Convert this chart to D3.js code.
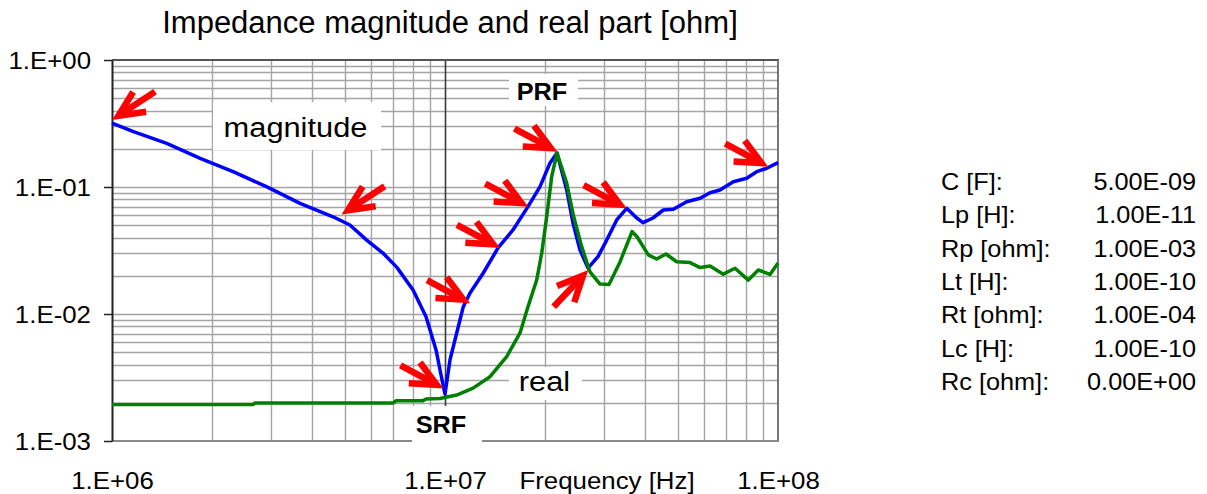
<!DOCTYPE html>
<html>
<head>
<meta charset="utf-8">
<script src="https://cdn.jsdelivr.net/npm/d3@7"></script>
<style>
  body { margin: 0; background: #fff; }
  svg { display: block; }
  text { font-family: "Liberation Sans", Arial, sans-serif; fill: #000; }
</style>
</head>
<body>
<svg id="chart" width="1207" height="494"></svg>
<script>
// Impedance magnitude |Z| [ohm] versus frequency [Hz]
const magFreq = [1.00e6, 1.16e6, 1.46e6, 1.84e6, 2.31e6, 2.91e6, 3.67e6, 4.61e6, 5.18e6, 5.82e6,
  6.51e6, 7.16e6, 8.02e6, 8.77e6, 9.40e6, 9.73e6, 1.00e7, 1.035e7, 1.059e7, 1.109e7,
  1.135e7, 1.189e7, 1.303e7, 1.443e7, 1.600e7, 1.775e7, 1.929e7, 2.067e7, 2.169e7, 2.320e7,
  2.423e7, 2.543e7, 2.688e7, 2.880e7, 3.059e7, 3.278e7, 3.513e7, 3.765e7, 3.932e7, 4.213e7,
  4.524e7, 4.848e7, 5.318e7, 5.833e7, 6.249e7, 6.696e7, 7.341e7, 8.054e7, 8.630e7, 9.250e7, 1.00e8];
const magValue = [0.319, 0.2725, 0.2208, 0.1683, 0.1320, 0.1006, 0.0744, 0.0583, 0.0502, 0.0382,
  0.0302, 0.0234, 0.01545, 0.00952, 0.00521, 0.00331, 0.00234, 0.00434, 0.00553, 0.00897,
  0.01142, 0.01463, 0.02103, 0.0331, 0.0459, 0.0700, 0.1006, 0.1545, 0.1852, 0.0947,
  0.0521, 0.0319, 0.0230, 0.0283, 0.0382, 0.0550, 0.0680, 0.0570, 0.0524, 0.0570,
  0.0659, 0.0667, 0.0766, 0.0815, 0.0902, 0.0947, 0.1101, 0.1171, 0.1320, 0.1404, 0.1554];

// Real part Re(Z) [ohm] versus frequency [Hz]
const realFreq = [1.00e6, 2.651e6, 2.688e6, 6.980e6, 7.125e6, 8.587e6, 8.769e6, 9.661e6, 1.014e7, 1.084e7,
  1.214e7, 1.365e7, 1.532e7, 1.680e7, 1.775e7, 1.885e7, 1.952e7, 2.020e7, 2.091e7, 2.169e7,
  2.320e7, 2.428e7, 2.573e7, 2.725e7, 2.921e7, 3.108e7, 3.354e7, 3.644e7, 3.773e7, 4.078e7,
  4.322e7, 4.610e7, 4.963e7, 5.441e7, 5.833e7, 6.249e7, 6.850e7, 7.428e7, 8.144e7, 8.727e7,
  9.463e7, 1.00e8];
const realValue = [0.00194, 0.00194, 0.00199, 0.00199, 0.00207, 0.00207, 0.00214, 0.00216, 0.00222, 0.00230,
  0.00261, 0.00321, 0.00461, 0.00709, 0.0114, 0.0185, 0.0302, 0.0583, 0.1205, 0.1852,
  0.1075, 0.0602, 0.0339, 0.0215, 0.0172, 0.0171, 0.0257, 0.0446, 0.0406, 0.0292,
  0.0271, 0.0297, 0.0258, 0.0254, 0.0232, 0.0239, 0.0206, 0.0229, 0.0185, 0.0222,
  0.0205, 0.0252];

// Axis ticks
const xTickValues = [1e6, 1e7, 1e8];
const xTickLabels = ["1.E+06", "1.E+07", "1.E+08"];
const yTickValues = [1e-3, 1e-2, 1e-1, 1];
const yTickLabels = ["1.E-03", "1.E-02", "1.E-01", "1.E+00"];

// Circuit parameters listed beside the plot
const paramNames = ["C [F]:", "Lp [H]:", "Rp [ohm]:", "Lt [H]:", "Rt [ohm]:", "Lc [H]:", "Rc [ohm]:"];
const paramValues = ["5.00E-09", "1.00E-11", "1.00E-03", "1.00E-10", "1.00E-04", "1.00E-10", "0.00E+00"];

// Red pointer arrows: tip location and the side the arrow comes from
const arrowFreq = [1.0e6, 4.89e6, 9.9e6, 1.19e7, 1.463e7, 1.779e7, 2.177e7, 2.694e7, 3.513e7, 9.35e7];
const arrowValue = [0.337, 0.0607, 0.00259, 0.01214, 0.0331, 0.0700, 0.1897, 0.0222, 0.0680, 0.1445];
const arrowFrom = ["ne", "ne", "nw", "nw", "nw", "nw", "nw", "sw", "nw", "nw"];

const svg = d3.select("#chart");
svg.append("rect").attr("width", 1207).attr("height", 494).attr("fill", "#fff");

const x = d3.scaleLog().domain([1e6, 1e8]).range([112, 778]);
const y = d3.scaleLog().domain([1e-3, 1]).range([441, 60]);
const [x0, x1] = x.range();
const [y0, y1] = y.range();
const STRETCH = 1.1;

// Grid: every 1..9 multiple of each decade
const xGrid = [], yGrid = [];
for (let e = 6; e < 8; e++) for (let k = 1; k <= 9; k++) xGrid.push(k * Math.pow(10, e));
for (let e = -3; e < 0; e++) for (let k = 1; k <= 9; k++) yGrid.push(k * Math.pow(10, e));

const grid = svg.append("g");
grid.selectAll("line.h").data(yGrid.filter(v => v > 1e-3)).join("line")
  .attr("x1", x0).attr("x2", x1)
  .attr("y1", d => Math.round(y(d)) + 0.5).attr("y2", d => Math.round(y(d)) + 0.5)
  .attr("stroke", "#a4a4a4").attr("stroke-width", 1.4);
grid.selectAll("line.v").data(xGrid.filter(v => v > 1e6)).join("line")
  .attr("y1", y1).attr("y2", y0)
  .attr("x1", d => Math.round(x(d)) + 0.5).attr("x2", d => Math.round(x(d)) + 0.5)
  .attr("stroke", d => d === 1e7 ? "#3a3a3a" : "#a4a4a4")
  .attr("stroke-width", d => d === 1e7 ? 1.6 : 1.4);

// Plot frame
svg.append("line").attr("x1", x0).attr("x2", x1 + 1).attr("y1", y1).attr("y2", y1)
  .attr("stroke", "#555").attr("stroke-width", 2);
svg.append("line").attr("x1", x1).attr("x2", x1).attr("y1", y1).attr("y2", y0)
  .attr("stroke", "#777").attr("stroke-width", 2);
svg.append("line").attr("x1", x0).attr("x2", x1 + 1).attr("y1", y0).attr("y2", y0)
  .attr("stroke", "#8a8a8a").attr("stroke-width", 2);

// Y axis with labels
const yAxis = d3.axisLeft(y).tickValues(yTickValues)
  .tickFormat((d, i) => yTickLabels[i]).tickSize(8).tickSizeOuter(0);
const yg = svg.append("g").attr("transform", `translate(${x0},0)`).call(yAxis);
yg.select(".domain").attr("stroke", "#222").attr("stroke-width", 2);
yg.selectAll(".tick line").attr("stroke", "#222").attr("stroke-width", 1.5);
yg.selectAll(".tick text")
  .attr("x", 0).attr("dy", null).attr("y", 8)
  .attr("transform", `translate(-21,0) scale(${STRETCH},1)`)
  .attr("font-size", 23.5).attr("font-family", null).attr("fill", "#000")
  .attr("text-anchor", "end");

// X axis labels
const xAxis = d3.axisBottom(x).tickValues(xTickValues)
  .tickFormat((d, i) => xTickLabels[i]).tickSize(0).tickSizeOuter(0);
const xg = svg.append("g").attr("transform", `translate(0,${y0})`).call(xAxis);
xg.select(".domain").remove();
xg.selectAll(".tick text")
  .attr("dy", null).attr("y", 48)
  .attr("transform", `scale(${STRETCH},1)`)
  .attr("font-size", 23.5).attr("font-family", null).attr("fill", "#000");

function stretchedText(px, py, str, size, anchor, weight) {
  return svg.append("text")
    .attr("transform", `translate(${px},${py}) scale(${STRETCH},1)`)
    .attr("text-anchor", anchor || "middle")
    .attr("font-size", size)
    .attr("font-weight", weight || "normal")
    .text(str);
}

stretchedText(607, 489, "Frequency [Hz]", 23.5);

// Title
svg.append("text").attr("x", 450).attr("y", 33).attr("text-anchor", "middle")
  .attr("font-size", 31).text("Impedance magnitude and real part [ohm]");

// Annotation labels on white boxes
const boxes = [
  { x: 213, y: 102, w: 168, h: 48, cx: 295.5, by: 137, txt: "magnitude", size: 28, weight: "normal" },
  { x: 509, y: 74, w: 69, h: 32, cx: 542, by: 100, txt: "PRF", size: 23, weight: "bold" },
  { x: 509, y: 367, w: 73, h: 33, cx: 544.5, by: 391, txt: "real", size: 28, weight: "normal" },
  { x: 412, y: 406, w: 70, h: 50, cx: 441, by: 433, txt: "SRF", size: 23, weight: "bold" }
];
boxes.forEach(b => {
  svg.append("rect").attr("x", b.x).attr("y", b.y).attr("width", b.w).attr("height", b.h).attr("fill", "#fff");
  stretchedText(b.cx, b.by, b.txt, b.size, "middle", b.weight);
});

// Curves
const line = d3.line().x(d => x(d[0])).y(d => y(d[1]));
svg.append("path").datum(d3.zip(magFreq, magValue)).attr("d", line)
  .attr("fill", "none").attr("stroke", "#0000ff").attr("stroke-width", 3.5)
  .attr("stroke-linejoin", "round");
svg.append("path").datum(d3.zip(realFreq, realValue)).attr("d", line)
  .attr("fill", "none").attr("stroke", "#008000").attr("stroke-width", 3.5)
  .attr("stroke-linejoin", "round");

// Arrows
const dirs = { ne: [41, -27], nw: [-41, -22], sw: [-33, 35] };
const aw = 6.5, armLen = 28, half = 25 * Math.PI / 180;
arrowFreq.forEach((f, i) => {
  const tx = x(f), ty = y(arrowValue[i]);
  const [dx, dy] = dirs[arrowFrom[i]];
  const len = Math.hypot(dx, dy);
  const ux = dx / len, uy = dy / len;
  const back = aw / 2 / Math.sin(half);       // keep the mitred point on the tip
  const vx = tx + ux * back, vy = ty + uy * back;
  const ang = Math.atan2(uy, ux);
  const a1 = [vx + armLen * Math.cos(ang + half), vy + armLen * Math.sin(ang + half)];
  const a2 = [vx + armLen * Math.cos(ang - half), vy + armLen * Math.sin(ang - half)];
  const g = svg.append("g").attr("stroke", "#ff0000").attr("fill", "none").attr("stroke-width", aw);
  g.append("line").attr("x1", tx + dx * 1.05).attr("y1", ty + dy * 1.05)
    .attr("x2", vx + ux * 4).attr("y2", vy + uy * 4);
  g.append("path").attr("d", `M${a1[0]},${a1[1]}L${vx},${vy}L${a2[0]},${a2[1]}`)
    .attr("stroke-linejoin", "miter").attr("stroke-miterlimit", 10);
});

// Parameter table
paramNames.forEach((n, i) => {
  const by = 190 + i * 33.3;
  stretchedText(941, by, n, 23, "start");
  stretchedText(1196, by, paramValues[i], 23, "end");
});
</script>
</body>
</html>
